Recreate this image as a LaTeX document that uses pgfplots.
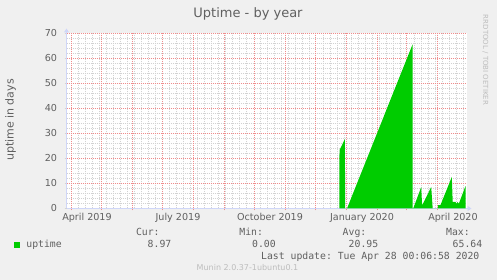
\documentclass[border=0pt]{standalone}
\usepackage{fontspec}
\setmainfont{DejaVu Sans}
\setmonofont{DejaVu Sans Mono}
\usepackage{pgfplots}
\pgfplotsset{compat=1.18}
\usetikzlibrary{arrows.meta}
\definecolor{bg}{HTML}{F0F0F0}
\definecolor{fontc}{HTML}{606060}
\definecolor{axisc}{HTML}{CFD6F8}
\definecolor{mgridc}{HTML}{F08C8C}
\definecolor{gridc}{HTML}{D2D2D2}
\definecolor{upt}{HTML}{00CC00}
\definecolor{wm}{HTML}{BDBDBD}
\pgfplotsset{
  base/.style={at={(66.5pt,71.5pt)}, anchor=south west,
    scale only axis, width=400pt, height=175pt,
    xmin=-5, xmax=395, ymin=0, ymax=70},
}
\begin{document}
\begin{tikzpicture}[x=1pt,y=1pt]
\useasboundingbox (0,0) rectangle (497,280);
\fill[bg] (0,0) rectangle (497,280);
% minor grid
\begin{axis}[base, axis line style={draw=none},
  axis background/.style={fill=white},
  xtick={7,14,21,28,35,42,49,56,63,70,77,84,98,105,112,119,126,133,140,147,154,161,168,175,189,196,203,210,217,224,231,238,252,259,266,273,280,287,294,301,308,315,322,329,343,350,357,364,371,378,385,392},
  ytick={2,4,6,8,12,14,16,18,22,24,26,28,32,34,36,38,42,44,46,48,52,54,56,58,62,64,66,68},
  xticklabels={}, yticklabels={}, major tick length=0pt,
  grid=major, grid style={draw=gridc, dash pattern=on 1pt off 1pt, line width=1pt}]
\end{axis}
% major grid
\begin{axis}[base, axis line style={draw=none},
  xtick={0,30,61,91,122,153,183,214,244,275,306,335,366},
  ytick={10,20,...,70},
  xticklabels={}, yticklabels={}, major tick length=0pt,
  grid=major, grid style={draw=mgridc, dash pattern=on 1pt off 1pt, line width=1pt}]
\end{axis}
% data, axes, labels
\begin{axis}[base,
  axis lines=left,
  axis line style={draw=axisc, line width=1pt, -{Triangle[length=4pt,width=5pt]}, shorten >=-5pt},
  xtick={0,30,61,91,122,153,183,214,244,275,306,335,366},
  xticklabels={},
  ytick={0,10,...,70},
  extra x ticks={15.5,106.5,198.5,290.5,381.5},
  extra x tick labels={April 2019,July 2019,October 2019,January 2020,April 2020},
  extra x tick style={major tick length=0pt},
  tick align=outside,
  major tick length=2pt,
  xtick style={draw=mgridc, line width=1pt},
  ytick style={draw=gridc, line width=1pt},
  /pgf/number format/assume math mode=true,
  tick label style={font=\fontsize{9.6}{11}\selectfont, text=fontc},
  xticklabel style={anchor=base, inner sep=0pt, yshift=-12.4pt},
  yticklabel style={anchor=east, inner sep=0pt, xshift=-7.3pt},
  clip=true,
]
\addplot[fill=upt, draw=none] coordinates {
(267.9,0) (268,23.3) (273.4,27.8) (273.6,0) (275.5,0) (341,65.6) (341.2,0)
(342,0.3) (349.7,8.6) (350.6,1.2) (359.7,8.6) (361.2,0) (366.3,0) (366.4,1.3)
(369,1.4) (380.3,12.6) (381.2,2.6) (384,2.6) (385,1.9) (386,2.6) (387.3,1.9)
(394,8.97) (394,0)
} \closedcycle;
\end{axis}
\node[anchor=base, inner sep=0pt, font=\fontsize{13}{15}\selectfont, text=fontc] at (248,262.5) {Uptime - by year};
\node[rotate=90, anchor=base, inner sep=0pt, font=\fontsize{11}{13}\selectfont, text=fontc] at (13.5,160) {uptime in days};
\node[rotate=-90, inner sep=0pt, font=\fontsize{7}{8}\selectfont, text=wm] at (485.5,220) {RRDTOOL / TOBI OETIKER};
\fill[upt] (14,32.3) rectangle (20,37.7);
\begin{scope}[every node/.style={anchor=base west, inner sep=0pt, font=\ttfamily\fontsize{9.8}{11}\selectfont, text=fontc}]
\node at (26.2,32.3) {uptime};
\node at (135.8,44.3) {Cur:};
\node at (147.5,32.3) {8.97};
\node at (239.2,44.3) {Min:};
\node at (251.9,32.3) {0.00};
\node at (342.5,44.3) {Avg:};
\node at (348.5,32.3) {20.95};
\node at (445.9,44.3) {Max:};
\node at (452.5,32.3) {65.64};
\node at (260.9,20.3) {Last update: Tue Apr 28 00:06:58 2020};
\end{scope}
\node[anchor=base, inner sep=0pt, font=\fontsize{8}{9}\selectfont, text=wm] at (247.5,9) {Munin 2.0.37-1ubuntu0.1};
\end{tikzpicture}
\end{document}
